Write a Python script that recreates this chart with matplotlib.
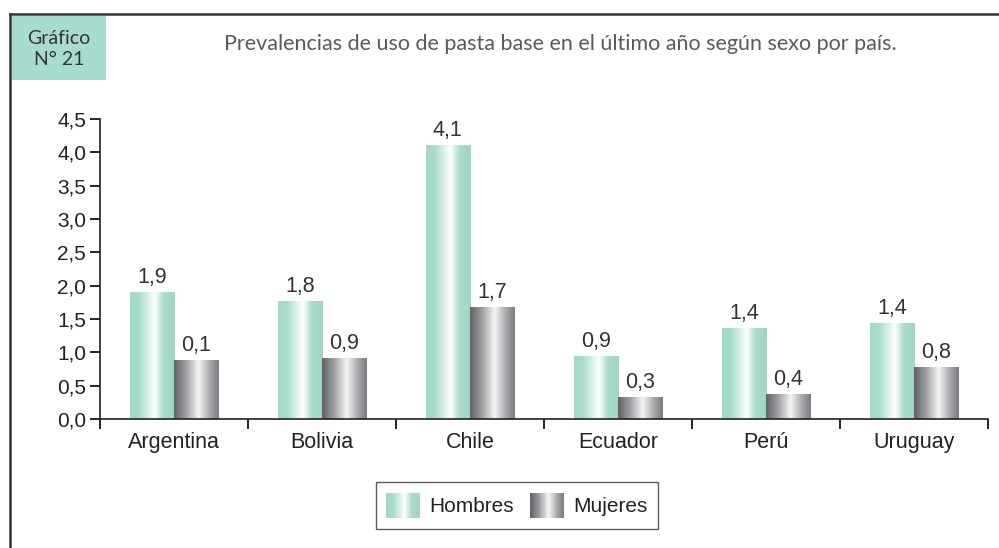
#!/usr/bin/env python3

import numpy as np
import matplotlib
matplotlib.use('Agg')
import matplotlib.pyplot as plt
from matplotlib.colors import LinearSegmentedColormap
from matplotlib.patches import Rectangle
from matplotlib.lines import Line2D
from matplotlib.legend_handler import HandlerBase
from matplotlib.ticker import FuncFormatter, MultipleLocator

paises = ['Argentina', 'Bolivia', 'Chile', 'Ecuador', 'Perú', 'Uruguay']
hombres = [1.90, 1.77, 4.11, 0.94, 1.36, 1.44]
mujeres = [0.88, 0.91, 1.68, 0.33, 0.37, 0.78]
etiquetas_h = ['1,9', '1,8', '4,1', '0,9', '1,4', '1,4']
etiquetas_m = ['0,1', '0,9', '1,7', '0,3', '0,4', '0,8']

titulo = 'Prevalencias de uso de pasta base en el último año según sexo por país.'

cmap_h = LinearSegmentedColormap.from_list('h', [
    (0.0, '#a3d9c7'), (0.2, '#a8dccb'), (0.55, '#ffffff'),
    (0.75, '#aadccc'), (1.0, '#9fd6c4')])
cmap_m = LinearSegmentedColormap.from_list('m', [
    (0.0, '#616166'), (0.25, '#9a9a9e'), (0.55, '#f5f5f5'),
    (0.8, '#a8a8ac'), (1.0, '#7c7c80')])

grad = np.linspace(0, 1, 256).reshape(1, -1)


class GradientHandler(HandlerBase):
    def __init__(self, cmap, n=40):
        super().__init__()
        self.cmap = cmap
        self.n = n

    def create_artists(self, legend, orig_handle, xdescent, ydescent,
                       width, height, fontsize, trans):
        w = width / self.n
        arts = []
        for i in range(self.n):
            r = Rectangle((-xdescent + i * w, -ydescent), w * 1.05, height,
                          facecolor=self.cmap((i + 0.5) / self.n),
                          edgecolor='none', transform=trans)
            arts.append(r)
        return arts


def gradient_bars(ax, bars, cmap):
    for b in bars:
        x0, y0 = b.get_x(), b.get_y()
        ax.imshow(grad, cmap=cmap, aspect='auto', interpolation='bilinear',
                  extent=(x0, x0 + b.get_width(), y0, y0 + b.get_height()),
                  zorder=2)
        b.set_alpha(0)


plt.rcParams['font.family'] = ['Liberation Sans', 'DejaVu Sans']

fig = plt.figure(figsize=(9.99, 5.48), dpi=100)
ax = fig.add_axes([0.1001, 0.2354, 0.8889, 0.5474])

x = np.arange(len(paises))
w = 0.3
bh = ax.bar(x - w / 2, hombres, w, color='#a8dccb', zorder=1)
bm = ax.bar(x + w / 2, mujeres, w, color='#8a8a8e', zorder=1)
gradient_bars(ax, bh, cmap_h)
gradient_bars(ax, bm, cmap_m)

for b, t in zip(list(bh) + list(bm), etiquetas_h + etiquetas_m):
    ax.annotate(t, (b.get_x() + b.get_width() / 2, b.get_height()),
                xytext=(0, 3), textcoords='offset points', ha='center',
                va='bottom', fontsize=15.5, color='#333333')

ax.set_xlim(-0.5, len(paises) - 0.5)
ax.set_ylim(0, 4.5)
ax.yaxis.set_major_locator(MultipleLocator(0.5))
ax.yaxis.set_major_formatter(FuncFormatter(lambda v, p: f'{v:.1f}'.replace('.', ',')))
ax.set_xticks(x)
ax.set_xticklabels(paises)
ax.set_xticks(np.arange(len(paises) + 1) - 0.5, minor=True)
ax.tick_params(axis='x', which='major', length=0, pad=9, labelsize=15.5,
               labelcolor='#222222')
ax.tick_params(axis='x', which='minor', length=7, width=1.2, direction='out')
ax.tick_params(axis='y', length=7, width=1.2, pad=3, labelsize=15,
               labelcolor='#222222')
for s in ['top', 'right']:
    ax.spines[s].set_visible(False)
for s in ['left', 'bottom']:
    ax.spines[s].set_linewidth(1.2)
    ax.spines[s].set_color('#222222')

leg = ax.legend([bh, bm], ['Hombres', 'Mujeres'],
                handler_map={bh: GradientHandler(cmap_h), bm: GradientHandler(cmap_m)},
                loc='center', bbox_to_anchor=(0.4696, -0.288),
                bbox_transform=ax.transAxes, ncol=2, fontsize=15,
                frameon=True, fancybox=False, edgecolor='#333333',
                handlelength=1.6, handleheight=1.5, columnspacing=0.8,
                handletextpad=0.45, borderpad=0.5, borderaxespad=0)
leg.get_frame().set_linewidth(1.0)
for t in leg.get_texts():
    t.set_color('#222222')

# marco de la figura
fig.add_artist(Line2D([0.0105, 1.0], [0.9745, 0.9745], color='#333333',
                      lw=1.8, transform=fig.transFigure))
fig.add_artist(Line2D([0.0105, 0.0105], [0.9745, 0.0], color='#333333',
                      lw=1.8, transform=fig.transFigure))
fig.add_artist(Rectangle((0.0125, 0.854), 0.0935, 0.117, facecolor='#a8dccf',
                         edgecolor='none', transform=fig.transFigure))
fig.text(0.059, 0.910, 'Gráfico\nN° 21', ha='center', va='center',
         fontsize=14, color='#333333', family=['Lato', 'DejaVu Sans'],
         linespacing=1.3)
fig.text(0.561, 0.919, titulo, ha='center', va='center', fontsize=15.5,
         color='#5a5a5a', family=['Lato', 'DejaVu Sans'])

fig.savefig('out.png', dpi=100)
